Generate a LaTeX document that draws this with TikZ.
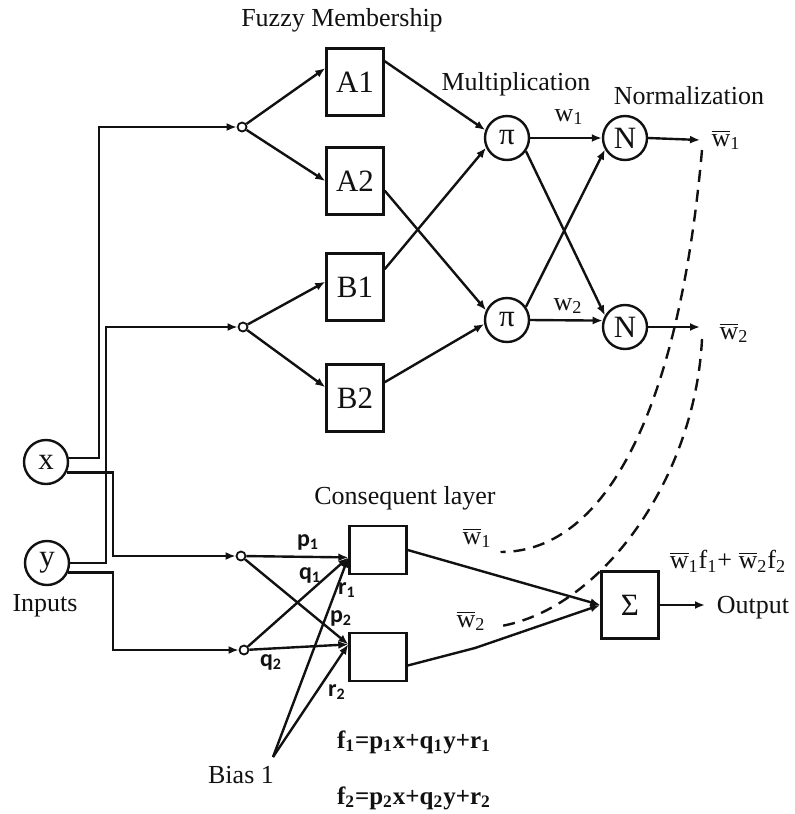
\documentclass[tikz,border=0pt]{standalone}
\usepackage{fontspec}
\setmainfont{Liberation Serif}
\newfontfamily\coeffont{Carlito}
\usetikzlibrary{arrows.meta,positioning,calc}
\definecolor{ink}{HTML}{111111}
\newcommand{\wbar}[1]{$\overline{\hbox{w}}$\textsubscript{#1}}

\begin{document}
\begin{tikzpicture}[x=0.5pt,y=-0.5pt,
    every node/.style={font=\fontsize{13}{15}\selectfont,text=ink},
    mfbox/.style={draw=ink,line width=1.2pt,minimum width=28.5pt,minimum height=33.5pt,inner sep=0pt,font=\fontsize{15.5}{17}\selectfont},
    rulebox/.style={draw=ink,line width=1.2pt,minimum width=28.5pt,minimum height=24pt,inner sep=0pt},
    neuron/.style={draw=ink,circle,line width=1.2pt,minimum size=22pt,inner sep=0pt,font=\fontsize{15.5}{17}\selectfont},
    split/.style={draw=ink,circle,line width=0.9pt,minimum size=4.5pt,inner sep=0pt,fill=white},
    conn/.style={draw=ink,line width=1.2pt,-{Latex[length=5pt,width=4pt]}},
    coef/.style={font=\coeffont\bfseries\fontsize{12}{14}\selectfont},
    fb/.style={draw=ink,line width=1.2pt,dash pattern=on 6pt off 4pt}]
  \useasboundingbox (0,0) rectangle (794,814);

  \node (fuzzy) at (342,20) {Fuzzy Membership};
  \node (mult) at (516,84) {Multiplication};
  \node (norm) at (689,96) {Normalization};
  \node (cons) at (405,498) {Consequent layer};

  \node[mfbox] (A1) at (355,82) {A1};
  \node[mfbox] (A2) at (355,181) {A2};
  \node[mfbox] (B1) at (355,287) {B1};
  \node[mfbox] (B2) at (355,398) {B2};
  \node[split] (sa) at (242,127) {};
  \node[split] (sb) at (243,327) {};

  \node[neuron] (x) at (46,462) {x};
  \node[neuron] (y) at (47,563) {y};
  \node (inputs) at (45,606) {Inputs};

  \node[neuron] (pi1) at (507,138) {π};
  \node[neuron] (pi2) at (507,320) {π};
  \node[neuron] (n1) at (625,138) {N};
  \node[neuron] (n2) at (625,327) {N};
  \coordinate (o1) at (700,140);
  \coordinate (o2) at (700,327);
  \node (w1l) at (569,117) {w\textsubscript{1}};
  \node (w2l) at (568,306) {w\textsubscript{2}};
  \node (w1o) at (726,140) {\wbar{1}};
  \node (w2o) at (734,333) {\wbar{2}};

  \node[rulebox] (c1) at (378,550) {};
  \node[rulebox] (c2) at (378,657) {};
  \node[split] (sp) at (241,556) {};
  \node[split] (sq) at (244,650) {};
  \coordinate (bias) at (273,757);
  \node (biaslbl) at (241,775) {Bias 1};

  \node[coef] (p1) at (308,542) {p\textsubscript{1}};
  \node[coef] (q1) at (310,575) {q\textsubscript{1}};
  \node[coef] (r1) at (347,590) {r\textsubscript{1}};
  \node[coef] (p2) at (341,618) {p\textsubscript{2}};
  \node[coef] (q2) at (271,662) {q\textsubscript{2}};
  \node[coef] (r2) at (337,692) {r\textsubscript{2}};

  \node[mfbox] (sum) at (630,605) {Σ};
  \coordinate (out) at (705,605);
  \node (outlbl) at (753,608) {Output};
  \node (sumlbl) at (728,561) {\wbar{1}f\textsubscript{1}+ \wbar{2}f\textsubscript{2}};
  \node (w1c) at (477,538) {\wbar{1}};
  \node (w2c) at (471,621) {\wbar{2}};

  \node[font=\bfseries\fontsize{12.5}{15}\selectfont] (f1) at (414,742)
    {f\textsubscript{1}=p\textsubscript{1}x+q\textsubscript{1}y+r\textsubscript{1}};
  \node[font=\bfseries\fontsize{12.5}{15}\selectfont] (f2) at (414,798)
    {f\textsubscript{2}=p\textsubscript{2}x+q\textsubscript{2}y+r\textsubscript{2}};

  \draw[conn] (x.10) -| (99,127) -- (sa);
  \draw[conn] (y.east) -| (106,327) -- (sb);
  \draw[conn] (x.-27) -| (113,556) -- (sp);
  \draw[conn] (y.-24) -| (113,650) -- (sq);

  \draw[conn] (sa) -- (A1.155);
  \draw[conn] (sa) -- (A2.west);
  \draw[conn] (sb) -- (B1.170);
  \draw[conn] (sb) -- (B2.160);

  \draw[conn] (A1.35) -- (pi1.160);
  \draw[conn] (A2.-18) -- (pi2.155);
  \draw[conn] (B1.31) -- (pi1.205);
  \draw[conn] (B2.28) -- (pi2.190);

  \draw[conn] (pi1.east) -- (n1.west);
  \draw[conn] (pi1.-35) -- (n2.150);
  \draw[conn] (pi2.35) -- (n1.210);
  \draw[conn] (pi2.east) -- (n2.164);
  \draw[conn] (n1.east) -- (o1);
  \draw[conn] (n2.east) -- (o2);

  \draw[conn] (sp) -- (c1.194);
  \draw[conn] (sp) -- (c2.157);
  \draw[conn] (sq) -- (c1.194);
  \draw[conn] (sq) -- (c2.157);
  \draw[conn] (bias) -- (c1.194);
  \draw[conn] (bias) -- (c2.157);

  \draw[conn] (c1.east) -- (sum.west);
  \draw[conn] (c2.-16) -- (475,648) -- (sum.west);
  \draw[conn] (sum.east) -- (out);

  \draw[fb] ($(o1)+(2,10)$) .. controls (680,400) and (610,552) .. ($(w1c.east)+(2,14)$);
  \draw[fb] ($(o2)+(2,12)$) .. controls (695,480) and (600,612) .. ($(w2c.east)+(3,6)$);
\end{tikzpicture}
\end{document}
